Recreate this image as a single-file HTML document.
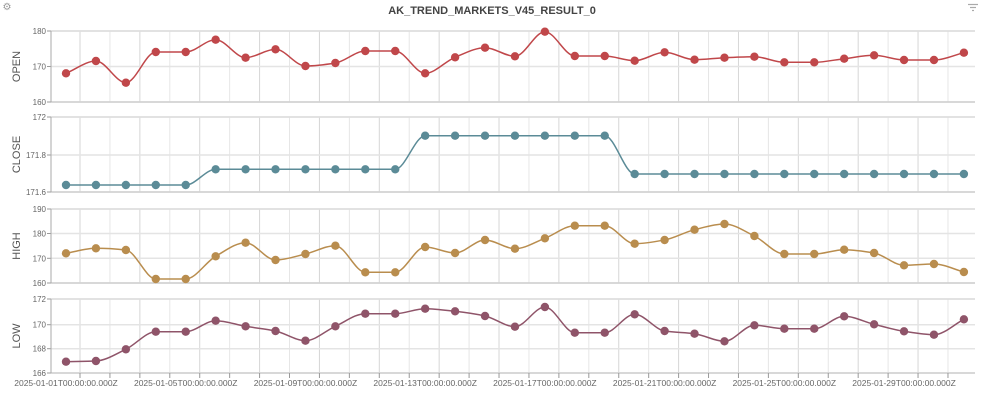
<!DOCTYPE html>
<html><head><meta charset="utf-8"><style>
html,body{margin:0;padding:0;background:#fff;}
svg{display:block;font-family:"Liberation Sans",sans-serif;}
</style></head><body>
<svg id="c" width="984" height="407" viewBox="0 0 984 407" xmlns="http://www.w3.org/2000/svg">
<text x="492" y="14" text-anchor="middle" font-size="11" font-weight="bold" fill="#444">AK_TREND_MARKETS_V45_RESULT_0</text>
<text x="7" y="10" text-anchor="middle" font-size="10" fill="#999">⚙</text>
<g stroke="#aaa" stroke-width="1.2"><line x1="968" y1="4.5" x2="978" y2="4.5"/><line x1="970" y1="7.5" x2="976" y2="7.5"/><line x1="972" y1="10.5" x2="974" y2="10.5"/></g>
<g id="g"></g>
</svg>
<script>
const NS="http://www.w3.org/2000/svg",g=document.getElementById('g');
function el(t,a,txt){const e=document.createElementNS(NS,t);for(const k in a)e.setAttribute(k,a[k]);if(txt!==undefined)e.textContent=txt;g.appendChild(e);return e;}
const X0=51,X1=975;
const px=i=>66+29.93*i;
const panels=[
{name:"OPEN",top:31,bot:102,ticks:[[31,"180"],[66.5,"170"],[102,"160"]],col:"#c0474a",
 ys:[73.3,61,82.7,52,52,39.7,57.7,49.3,66,63,51,51,73.3,57.3,47.7,56.3,31.7,56,56,60.7,52.3,59.7,57.7,56.7,62.3,62.3,58.7,55.3,60,60,52.7]},
{name:"CLOSE",top:117,bot:192,ticks:[[117,"172"],[155,"171.8"],[192,"171.6"]],col:"#5b8b97",
 ys:[185,185,185,185,185,169.3,169.3,169.3,169.3,169.3,169.3,169.3,135.7,135.7,135.7,135.7,135.7,135.7,135.7,174,174,174,174,174,174,174,174,174,174,174,174]},
{name:"HIGH",top:209,bot:283,ticks:[[209,"190"],[233.5,"180"],[258.3,"170"],[283,"160"]],col:"#b98d4e",
 ys:[253.3,248.3,250,279,279,256.3,242.7,260,254,245.7,272.3,272.3,247,253,240,248.7,238.3,225.7,225.7,243.7,240,229.7,224,236,254,254,249.7,253,265.3,264,272]},
{name:"LOW",top:299,bot:373,ticks:[[299,"172"],[324.7,"170"],[348.7,"168"],[373,"166"]],col:"#8f5469",
 ys:[361.7,361,349.3,331.7,331.7,320.7,326.3,331,340.7,326.3,313.7,313.7,308.7,311.3,316,326.7,307,332.7,332.7,314.3,331,333.7,341.3,325.3,328.7,328.7,316.3,324.3,331.3,334.7,319.3]}
];
function mono(xs,ys){const n=xs.length,d=[],m=[];for(let i=0;i<n-1;i++)d.push((ys[i+1]-ys[i])/(xs[i+1]-xs[i]));
m[0]=d[0];m[n-1]=d[n-2];for(let i=1;i<n-1;i++){if(d[i-1]*d[i]<=0)m[i]=0;else m[i]=2/(1/d[i-1]+1/d[i]);}
let p="M"+xs[0]+","+ys[0];for(let i=0;i<n-1;i++){const h=(xs[i+1]-xs[i])/3;p+=` C${xs[i]+h},${ys[i]+m[i]*h} ${xs[i+1]-h},${ys[i+1]-m[i+1]*h} ${xs[i+1]},${ys[i+1]}`;}return p;}
for(const P of panels){
 for(let k=0;k<30;k++){const x=80+29.93*k;el('line',{x1:x,y1:P.top,x2:x,y2:P.bot,stroke:k%2?"#e6e6e6":"#d6d6d6","stroke-width":1});}
 for(const [y,t] of P.ticks){el('line',{x1:X0,y1:y,x2:X1,y2:y,stroke:"#e4e4e4","stroke-width":1.5});
  el('line',{x1:X0-4,y1:y,x2:X0,y2:y,stroke:"#999"});
  el('text',{x:X0-5,y:y+3,"text-anchor":"end","font-size":"8",fill:"#666"},t);}
 el('line',{x1:X0,y1:P.top,x2:X1,y2:P.top,stroke:"#ddd","stroke-width":1.5});
 el('line',{x1:X0,y1:P.bot,x2:X1,y2:P.bot,stroke:"#d0d0d0","stroke-width":1.5});
 el('line',{x1:X0,y1:P.top,x2:X0,y2:P.bot,stroke:"#aaa","stroke-width":1});
 const cy=(P.top+P.bot)/2;
 el('text',{x:0,y:0,transform:`translate(20,${cy}) rotate(-90)`,"text-anchor":"middle","font-size":"11",fill:"#555"},P.name);
 const xs=P.ys.map((_,i)=>px(i));
 el('path',{d:mono(xs,P.ys),fill:"none",stroke:P.col,"stroke-width":1.5});
 xs.forEach((x,i)=>el('circle',{cx:x,cy:P.ys[i],r:4.2,fill:P.col}));
}
for(let k=0;k<30;k++){const x=80+29.93*k;el('line',{x1:x,y1:373,x2:x,y2:378,stroke:"#999"});}
const labs=["2025-01-01","2025-01-05","2025-01-09","2025-01-13","2025-01-17","2025-01-21","2025-01-25","2025-01-29"];
labs.forEach((l,j)=>el('text',{x:px(j*4),y:386,"text-anchor":"middle","font-size":"8.5",fill:"#666"},l+"T00:00:00.000Z"));
</script>
</body></html>
